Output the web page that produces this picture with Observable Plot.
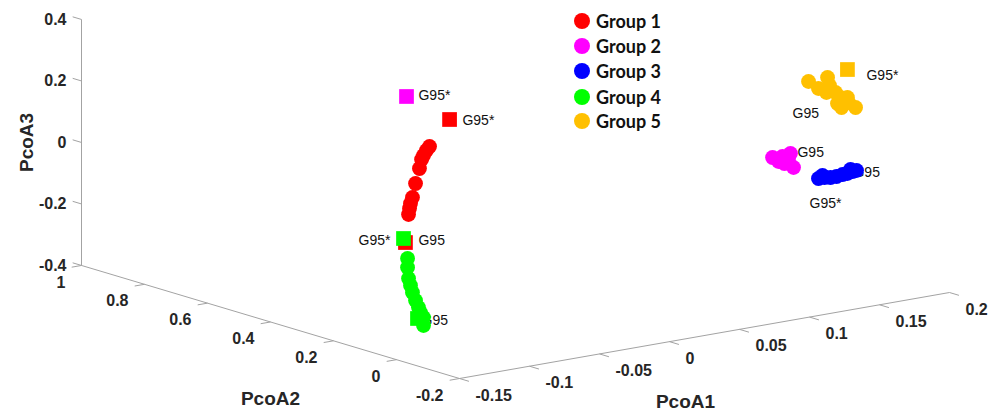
<!DOCTYPE html>
<html><head><meta charset="utf-8">
<script src="https://cdn.jsdelivr.net/npm/d3@7"></script>
<script src="https://cdn.jsdelivr.net/npm/@observablehq/plot@0.6"></script>
<style>
body{margin:0;background:#fff;}
#wrap{position:relative;width:1005px;height:412px;}
#legend{position:absolute;left:574px;top:8px;font-family:Lato,"Open Sans",sans-serif;font-weight:bold;font-size:18px;color:#111;}
.row{display:flex;align-items:center;height:25px;}
.row.gap{margin-top:2px;height:23px;}
.sw{width:16px;height:16px;border-radius:50%;margin-right:6px;}
</style></head><body><div id="wrap"><div id="legend"></div></div>
<script>
// ---- data ----
const groups = ["Group 1","Group 2","Group 3","Group 4","Group 5"];
const colors = ["#ff0000","#ff00ff","#0000ff","#00ff00","#ffc000"];

const g1PcoA1 = [-0.1039,-0.1061,-0.1082,-0.1096,-0.1111,-0.1139,-0.1161,-0.1175,-0.1182,-0.1189];
const g1PcoA2 = [0.10,0.10,0.10,0.10,0.10,0.10,0.10,0.10,0.10,0.10];
const g1PcoA3 = [0.2258,0.2145,0.1999,0.1880,0.1599,0.1134,0.0696,0.0512,0.0355,0.0166];

const g2PcoA1 = [0.0961,0.1032,0.1089,0.1004,0.1046,0.1111,0.1075];
const g2PcoA2 = [-0.10,-0.10,-0.10,-0.10,-0.10,-0.10,-0.10];
const g2PcoA3 = [0.0914,0.0890,0.0942,0.0750,0.0651,0.0469,0.0726];

const g3PcoA1 = [0.1289,0.1332,0.1375,0.1418,0.1461,0.1496,0.1532,0.1561,0.1318,0.1518];
const g3PcoA2 = [-0.10,-0.10,-0.10,-0.10,-0.10,-0.10,-0.10,-0.10,-0.10,-0.10];
const g3PcoA3 = [-0.0031,-0.0033,-0.0067,-0.0069,-0.0038,-0.0034,0.0003,0.0012,0.0044,0.0079];

const g4PcoA1 = [-0.1196,-0.1196,-0.1189,-0.1175,-0.1161,-0.1139,-0.1118,-0.1104,-0.1082,-0.1082];
const g4PcoA2 = [0.10,0.10,0.10,0.10,0.10,0.10,0.10,0.10,0.10,0.10];
const g4PcoA3 = [-0.1259,-0.1552,-0.1915,-0.2154,-0.2393,-0.2671,-0.2915,-0.3089,-0.3269,-0.3529];

const g5PcoA1 = [0.1218,0.1354,0.1289,0.1368,0.1411,0.1446,0.1496,0.1425,0.1554,0.1454,0.1346,0.1504];
const g5PcoA2 = [-0.10,-0.10,-0.10,-0.10,-0.10,-0.10,-0.10,-0.10,-0.10,-0.10,-0.10,-0.10];
const g5PcoA3 = [0.3180,0.3202,0.2896,0.2931,0.2669,0.2478,0.2438,0.2300,0.2067,0.2147,0.2720,0.2269];

// reference samples (squares)
const refGroup = ["Group 1","Group 1","Group 2","Group 4","Group 4","Group 5"];
const refPcoA1 = [-0.0896,-0.1211,-0.1091,-0.1225,-0.1125,0.1496];
const refPcoA2 = [0.10,0.10,0.15,0.10,0.10,-0.10];
const refPcoA3 = [0.3021,-0.0728,0.3772,-0.0586,-0.3267,0.3348];

// point annotations
const labText  = ["G95*","G95*","G95*","G95","G95","G95*","G95","G95","G95","G95*"];
const labSide  = ["right","right","left","right","right","right","right","right","right","right"];
const labPcoA1 = [-0.1118,-0.0804,-0.1318,-0.1118,-0.1096,0.1632,0.1104,0.1139,0.1539,0.1225];
const labPcoA2 = [0.10,0.10,0.10,0.10,0.10,-0.10,-0.10,-0.10,-0.10,-0.10];
const labPcoA3 = [0.3979,0.2915,-0.0577,-0.0737,-0.3355,0.3045,0.2231,0.0934,-0.0036,-0.0793];

// axis ticks
const pcoa1Ticks = [-0.15,-0.1,-0.05,0,0.05,0.1,0.15,0.2];
const pcoa2Ticks = [-0.2,0,0.2,0.4,0.6,0.8,1];
const pcoa3Ticks = [-0.4,-0.2,0,0.2,0.4];

// ---- 3D view (oblique projection to screen units) ----
const W = 1005, H = 412;
const ORIGIN = [459, 378];
const E1 = [1400, -245.7], E2 = [-315, -94.2], E3 = [0, -307.5];
const min1 = d3.min(pcoa1Ticks), max1 = d3.max(pcoa1Ticks);
const min2 = d3.min(pcoa2Ticks), max2 = d3.max(pcoa2Ticks);
const min3 = d3.min(pcoa3Ticks), max3 = d3.max(pcoa3Ticks);
function proj(a, b, c) {
  const u = a - min1, v = b - min2, w = c - min3;
  return [ORIGIN[0] + u*E1[0] + v*E2[0] + w*E3[0], ORIGIN[1] + u*E1[1] + v*E2[1] + w*E3[1]];
}
function pt(a, b, c, extra) { const [px, py] = proj(a, b, c); return {px, py, ...extra}; }

const circleSets = [
  [g1PcoA1, g1PcoA2, g1PcoA3], [g2PcoA1, g2PcoA2, g2PcoA3], [g3PcoA1, g3PcoA2, g3PcoA3],
  [g4PcoA1, g4PcoA2, g4PcoA3], [g5PcoA1, g5PcoA2, g5PcoA3]
];
const circles = groups.map((g, i) => circleSets[i][0].map((v, j) => pt(v, circleSets[i][1][j], circleSets[i][2][j], {group: g})));
const squares = refGroup.map((g, j) => pt(refPcoA1[j], refPcoA2[j], refPcoA3[j], {group: g}));
const labels = labText.map((t, j) => pt(labPcoA1[j], labPcoA2[j], labPcoA3[j], {text: t, side: labSide[j]}));

// axis geometry
const tick1 = 0.03, tick2 = 0.007, tick3 = 0.028;
const axisLines = [
  {a: proj(min1, min2, min3), b: proj(max1, min2, min3)},
  {a: proj(min1, min2, min3), b: proj(min1, max2, min3)},
  {a: proj(min1, max2, min3), b: proj(min1, max2, max3)}
];
const ticks = [
  ...pcoa1Ticks.map(v => ({a: proj(v, min2, min3), b: proj(v, min2 - tick1, min3)})),
  ...pcoa2Ticks.map(v => ({a: proj(min1, v, min3), b: proj(min1 - tick2, v, min3)})),
  ...pcoa3Ticks.map(v => ({a: proj(min1, max2, v), b: proj(min1, max2 + tick3, v)}))
];
const t1 = pcoa1Ticks.map(v => pt(v, min2, min3, {t: String(v)}));
const t2 = pcoa2Ticks.map(v => pt(min1, v, min3, {t: String(v)}));
const t3 = pcoa3Ticks.map(v => pt(min1, max2, v, {t: String(v)}));

const AX = "#a3a3a3", TXT = "#262626";
const tickFont = {fontSize: 16, fontWeight: "bold", fontFamily: "Arial, 'Liberation Sans', sans-serif", fill: TXT};
const titleFont = {fontSize: 19, fontWeight: "bold", fontFamily: "Arial, 'Liberation Sans', sans-serif", fill: TXT};
const labFont = {fontSize: 14, fontFamily: "Arial, 'Liberation Sans', sans-serif", fill: "#111"};

const marks = [
  Plot.link(axisLines, {x1: d => d.a[0], y1: d => d.a[1], x2: d => d.b[0], y2: d => d.b[1], stroke: AX, strokeWidth: 1}),
  Plot.link(ticks, {x1: d => d.a[0], y1: d => d.a[1], x2: d => d.b[0], y2: d => d.b[1], stroke: AX, strokeWidth: 1}),
  Plot.text(t1, {x: "px", y: "py", text: "t", textAnchor: "start", dx: 16, dy: 17, ...tickFont}),
  Plot.text(t2, {x: "px", y: "py", text: "t", textAnchor: "end", dx: -16, dy: 17, ...tickFont}),
  Plot.text(t3, {x: "px", y: "py", text: "t", textAnchor: "end", dx: -15, ...tickFont}),
  Plot.text([pt(min1, max2, (min3 + max3) / 2, {t: "PcoA3"})], {x: "px", y: "py", text: "t", rotate: -90, dx: -55, ...titleFont}),
  Plot.text([pt(min1, (min2 + max2) / 2, min3, {t: "PcoA2"})], {x: "px", y: "py", text: "t", dy: 77, ...titleFont}),
  Plot.text([pt(0, min2, min3, {t: "PcoA1"})], {x: "px", y: "py", text: "t", dx: 16, dy: 60, ...titleFont}),
  Plot.text(labels.filter(d => d.side === "right"), {x: "px", y: "py", text: "text", textAnchor: "start", ...labFont}),
  Plot.text(labels.filter(d => d.side === "left"), {x: "px", y: "py", text: "text", textAnchor: "end", ...labFont}),
  ...groups.flatMap((g, i) => [
    Plot.dot(squares.filter(d => d.group === g), {x: "px", y: "py", fill: "group", symbol: "square", r: 8.3}),
    Plot.dot(circles[i], {x: "px", y: "py", fill: "group", r: 7.4})
  ])
];

const chart = Plot.plot({
  width: W, height: H,
  marginTop: 0, marginRight: 0, marginBottom: 0, marginLeft: 0,
  x: {domain: [0, W], range: [0, W], axis: null},
  y: {domain: [0, H], range: [0, H], axis: null},
  color: {domain: groups, range: colors},
  style: {background: "transparent", overflow: "visible"},
  marks
});
document.getElementById("wrap").prepend(chart);

const legend = d3.select("#legend");
groups.forEach((g, i) => {
  const row = legend.append("div").attr("class", i === 3 ? "row gap" : "row");
  row.append("div").attr("class", "sw").style("background", colors[i]);
  row.append("span").text(g);
});
</script>
</body></html>
